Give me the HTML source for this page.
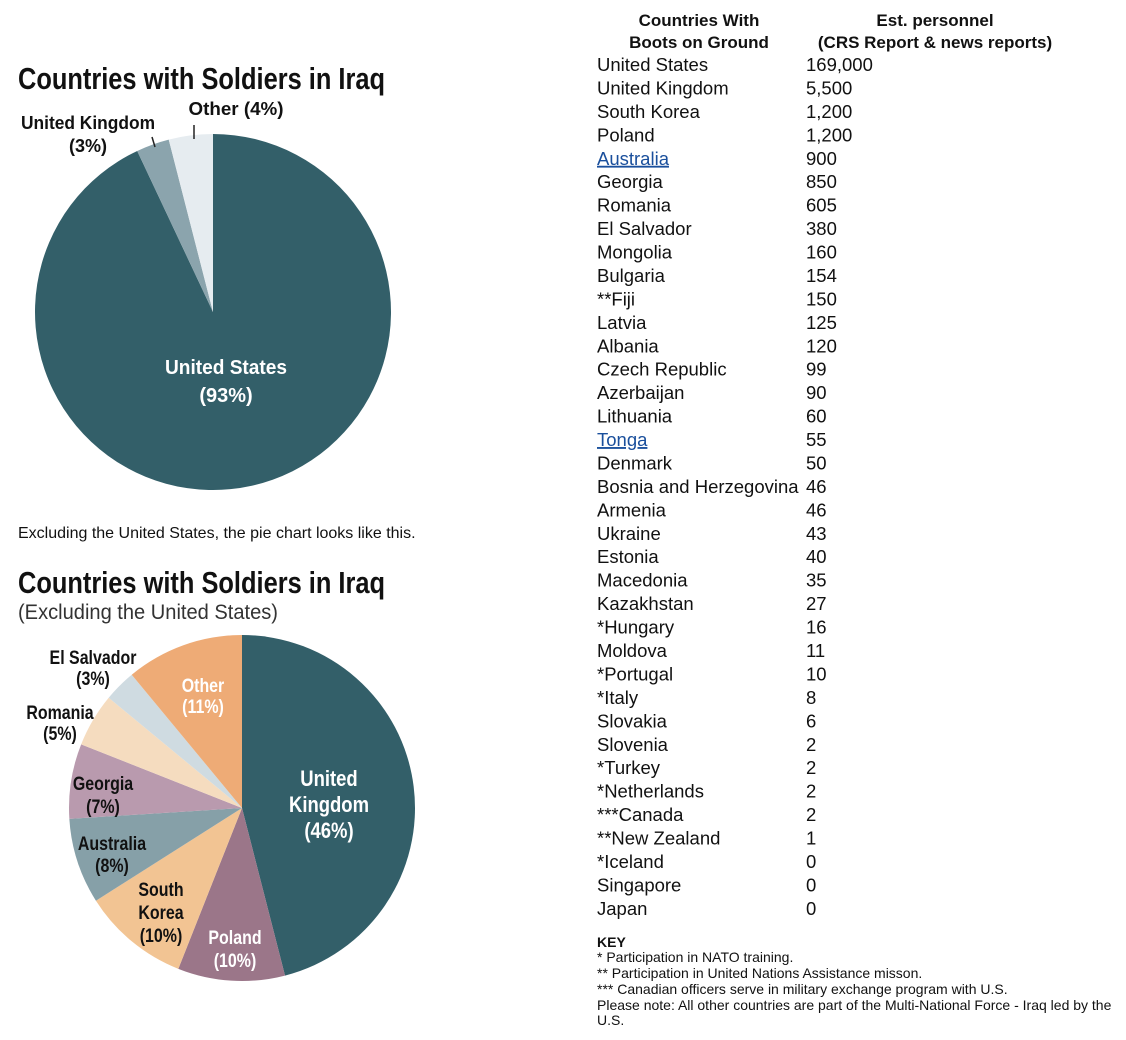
<!DOCTYPE html>
<html><head><meta charset="utf-8"><style>
html,body{margin:0;padding:0;background:#fff;}
svg{display:block;font-family:"Liberation Sans",Arial,sans-serif;}
.cond{font-family:"Liberation Sans Narrow","Liberation Sans",sans-serif;font-weight:bold;}
</style></head><body>
<svg id="root" width="1126" height="1040" viewBox="0 0 1126 1040">
<text class="cond" x="18" y="89" font-size="31" textLength="367" lengthAdjust="spacingAndGlyphs" fill="#111">Countries with Soldiers in Iraq</text>
<g id="pie1"></g>
<g class="cond">
<text x="88" y="129" font-size="18" text-anchor="middle" fill="#111" textLength="134" lengthAdjust="spacingAndGlyphs">United Kingdom</text>
<text x="88" y="152" font-size="18" text-anchor="middle" fill="#111">(3%)</text>
<text x="236" y="115" font-size="18" text-anchor="middle" fill="#111" textLength="95" lengthAdjust="spacingAndGlyphs">Other (4%)</text>
<line x1="152" y1="137" x2="155" y2="147" stroke="#222" stroke-width="1.5"/>
<line x1="194" y1="125" x2="194" y2="139" stroke="#222" stroke-width="1.5"/>
<text x="226" y="374" font-size="20" text-anchor="middle" fill="#fff" textLength="122" lengthAdjust="spacingAndGlyphs">United States</text>
<text x="226" y="402" font-size="20" text-anchor="middle" fill="#fff">(93%)</text>
</g>
<text x="18" y="538" font-size="16" fill="#111">Excluding the United States, the pie chart looks like this.</text>
<text class="cond" x="18" y="593" font-size="31" textLength="367" lengthAdjust="spacingAndGlyphs" fill="#111">Countries with Soldiers in Iraq</text>
<text x="18" y="619" font-size="21" textLength="260" lengthAdjust="spacingAndGlyphs" fill="#333" font-family="Liberation Sans Narrow, Liberation Sans, sans-serif">(Excluding the United States)</text>
<g id="pie2"></g>
<g id="pie2labels" class="cond" font-size="19" text-anchor="middle">
<text x="203" y="692" fill="#fff">Other</text>
<text x="203" y="713" fill="#fff">(11%)</text>
<text x="329" y="786" fill="#fff" font-size="22">United</text>
<text x="329" y="812" fill="#fff" font-size="22">Kingdom</text>
<text x="329" y="838" fill="#fff" font-size="22">(46%)</text>
<text x="235" y="944" fill="#fff">Poland</text>
<text x="235" y="967" fill="#fff">(10%)</text>
<text x="161" y="896" fill="#111">South</text>
<text x="161" y="919" fill="#111">Korea</text>
<text x="161" y="942" fill="#111">(10%)</text>
<text x="112" y="850" fill="#111">Australia</text>
<text x="112" y="872" fill="#111">(8%)</text>
<text x="103" y="790" fill="#111">Georgia</text>
<text x="103" y="813" fill="#111">(7%)</text>
<text x="60" y="719" fill="#111">Romania</text>
<text x="60" y="740" fill="#111">(5%)</text>
<text x="93" y="664" fill="#111">El Salvador</text>
<text x="93" y="685" fill="#111">(3%)</text>
</g>
<g font-weight="bold" font-size="17" text-anchor="middle" fill="#111">
<text x="699" y="26">Countries With</text>
<text x="699" y="48">Boots on Ground</text>
<text x="935" y="26">Est. personnel</text>
<text x="935" y="48">(CRS Report &amp; news reports)</text>
</g>
<g id="table"></g>
<g font-size="14" fill="#111">
<text x="597" y="947" font-weight="bold">KEY</text>
<text x="597" y="962">* Participation in NATO training.</text>
<text x="597" y="978">** Participation in United Nations Assistance misson.</text>
<text x="597" y="994">*** Canadian officers serve in military exchange program with U.S.</text>
<text x="597" y="1010">Please note: All other countries are part of the Multi-National Force - Iraq led by the</text>
<text x="597" y="1025">U.S.</text>
</g>
</svg>
<script>
const pie1Labels = ["United States","United Kingdom","Other"];
const pie1Values = [93,3,4];
const pie1Colors = ["#335f69","#8ba4ad","#e6ecf0"];
const pie2Labels = ["United Kingdom","Poland","South Korea","Australia","Georgia","Romania","El Salvador","Other"];
const pie2Values = [46,10,10,8,7,5,3,11];
const pie2Colors = ["#335f69","#9b7689","#f2c493","#86a0a8","#b99aae","#f5dcbf","#cfdbe1","#eeab76"];
const countries = ["United States","United Kingdom","South Korea","Poland","Australia","Georgia","Romania","El Salvador","Mongolia","Bulgaria","**Fiji","Latvia","Albania","Czech Republic","Azerbaijan","Lithuania","Tonga","Denmark","Bosnia and Herzegovina","Armenia","Ukraine","Estonia","Macedonia","Kazakhstan","*Hungary","Moldova","*Portugal","*Italy","Slovakia","Slovenia","*Turkey","*Netherlands","***Canada","**New Zealand","*Iceland","Singapore","Japan"];
const personnel = ["169,000","5,500","1,200","1,200","900","850","605","380","160","154","150","125","120","99","90","60","55","50","46","46","43","40","35","27","16","11","10","8","6","2","2","2","2","1","0","0","0"];
const linked = ["Australia","Tonga"];

const NS="http://www.w3.org/2000/svg";
function drawPie(gid, vals, cols, labels, cx, cy, r){
  const g=document.getElementById(gid);
  const total=vals.reduce((a,b)=>a+b,0);
  let a0=0;
  vals.forEach((v,i)=>{
    const a1=a0+v/total*2*Math.PI;
    const x0=cx+r*Math.sin(a0), y0=cy-r*Math.cos(a0);
    const x1=cx+r*Math.sin(a1), y1=cy-r*Math.cos(a1);
    const large=(a1-a0)>Math.PI?1:0;
    const p=document.createElementNS(NS,"path");
    p.setAttribute("d",`M${cx},${cy}L${x0},${y0}A${r},${r} 0 ${large} 1 ${x1},${y1}Z`);
    p.setAttribute("fill",cols[i]);
    
    
    g.appendChild(p);
    a0=a1;
  });
}
drawPie("pie1",pie1Values,pie1Colors,pie1Labels,213,312,178);
drawPie("pie2",pie2Values,pie2Colors,pie2Labels,242,808,173);

document.querySelectorAll("#pie2labels text").forEach(t=>{
  const x=+t.getAttribute("x");
  t.setAttribute("transform",`translate(${x},0) scale(0.84,1) translate(${-x},0)`);
});

const tg=document.getElementById("table");
countries.forEach((c,i)=>{
  const y=71+i*23.44;
  const t=document.createElementNS(NS,"text");
  t.setAttribute("x",597);t.setAttribute("y",y);t.setAttribute("font-size","18.5");
  const isLink=linked.includes(c);
  t.setAttribute("fill",isLink?"#1a4f9c":"#111");
  if(isLink) t.setAttribute("text-decoration","underline");
  t.textContent=c;
  
  
  tg.appendChild(t);
  const v=document.createElementNS(NS,"text");
  v.setAttribute("x",806);v.setAttribute("y",y);v.setAttribute("font-size","18.5");v.setAttribute("fill","#111");
  v.textContent=personnel[i];
  
  
  tg.appendChild(v);
});
</script>
</body></html>
